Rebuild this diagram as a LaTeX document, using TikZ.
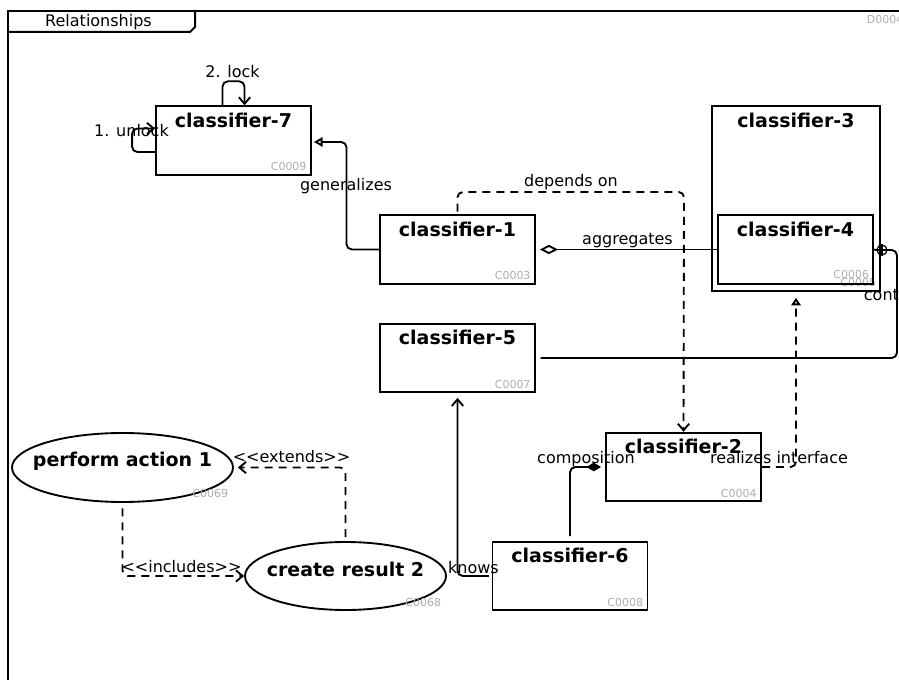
\documentclass[tikz,border=0pt]{standalone}
\usepackage{fontspec}
\setmainfont{DejaVu Sans}
\usetikzlibrary{arrows.meta,calc,shapes.geometric}
\newcommand{\lguil}{<\kern0pt<}
\newcommand{\rguil}{>\kern0pt>}
\begin{document}
\begin{tikzpicture}[x=0.75pt,y=-0.75pt,
  line width=1.4pt,
  cls/.style={draw, rectangle, minimum width=116.25pt, minimum height=51.4pt, inner sep=0pt},
  ttl/.style={font=\fontsize{14.25}{16}\selectfont\bfseries, anchor=base, inner sep=0pt},
  cid/.style={font=\fontsize{8.25}{10}\selectfont, text=black!32, anchor=base east, inner sep=0pt},
  lbl/.style={font=\fontsize{12}{14}\selectfont, anchor=base, inner sep=0pt},
  uc/.style={draw, ellipse, inner sep=0pt},
  rc/.style={rounded corners=4pt},
  dsh/.style={dash pattern=on 6pt off 4.5pt},
  vtip/.style={-{Straight Barb[length=5pt,width=8.5pt]}},
  ttip/.style={-{Triangle[open,length=6.5pt,width=7pt]}},
]
\useasboundingbox (0,0) rectangle (899,680);

% frame
\draw[line width=1.5pt] (8,700) -- (8,11) -- (910,11);
\draw[line width=1.5pt] (8,32) -- (190,32) -- (195,27) -- (195,11);
\node[lbl] (ftitle) at (98.5,27) {Relationships};
\node[cid, anchor=base west] (did) at (866,24) {D0004};

% classifiers
\node[cls] (c7) at (233.5,140.5) {};
\node[ttl] (t7) at ($(c7.north)+(0,22)$) {classifier-7};
\node[cid] (i7) at ($(c7.south east)+(-4.5,-5)$) {C0009};

\node[cls] (c1) at (457.5,249.5) {};
\node[ttl] (t1) at ($(c1.north)+(0,22)$) {classifier-1};
\node[cid] (i1) at ($(c1.south east)+(-4.5,-5)$) {C0003};

\node[cls, minimum width=126pt, minimum height=138.75pt] (c3) at (796,198.5) {};
\node[ttl] (t3) at ($(c3.north)+(0,22)$) {classifier-3};
\node[cid] (i3) at ($(c3.south east)+(-4,-5)$) {C0005};

\node[cls] (c4) at (795.5,249.5) {};
\node[ttl] (t4) at ($(c4.north)+(0,22)$) {classifier-4};
\node[cid] (i4) at ($(c4.south east)+(-4,-6)$) {C0006};

\node[cls] (c5) at (457.5,358) {};
\node[ttl] (t5) at ($(c5.north)+(0,22)$) {classifier-5};
\node[cid] (i5) at ($(c5.south east)+(-4.5,-5)$) {C0007};

\node[cls] (c2) at (683.5,467) {};
\node[ttl] (t2) at ($(c2.north)+(0,22)$) {classifier-2};
\node[cid] (i2) at ($(c2.south east)+(-4.5,-5)$) {C0004};

\node[cls] (c6) at (570,576) {};
\node[ttl] (t6) at ($(c6.north)+(0,22)$) {classifier-6};
\node[cid] (i6) at ($(c6.south east)+(-4.5,-5)$) {C0008};

% use cases
\node[uc, minimum width=165.75pt, minimum height=51.75pt] (u1) at (122.5,467.5) {};
\node[ttl] (tu1) at (122.5,466) {perform action 1};
\node[cid] (iu1) at (229,497) {C0069};

\node[uc, minimum width=150.75pt, minimum height=51pt] (u2) at (345.5,576) {};
\node[ttl] (tu2) at (345.5,576) {create result 2};
\node[cid] (iu2) at (442,606) {C0068};

% self loops on classifier-7
\draw[rc, vtip] ($(c7.west)+(0,11.5)$) -- ($(c7.west)+(-23,11.5)$) -- ($(c7.west)+(-23,-12)$) -- ($(c7.west)+(0,-12)$);
\node[lbl] (lunlock) at (131.5,137) {1. unlock};
\draw[rc, vtip] ($(c7.north)+(-11,0)$) -- ($(c7.north)+(-11,-24)$) -- ($(c7.north)+(11,-24)$) -- ($(c7.north)+(11,0)$);
\node[lbl] (llock) at (232.5,78) {2. lock};

% generalizes
\coordinate (g1) at (346.5,142);
\draw[rc, ttip, shorten >=1.5pt] (c1.west) -| (g1) -- (g1 -| c7.east);
\node[lbl] (lgen) at (346,191) {generalizes};

% depends on
\coordinate (d1) at (684,192);
\draw[rc, dsh, vtip, shorten <=2pt] (c1.north) |- (d1) -- (c2.north);
\node[lbl] (ldep) at (571,187) {depends on};

% aggregates
\draw[{Diamond[open,length=13.5pt,width=7pt]}-, shorten <=3pt] (c1.east) -- (c4.west);
\node[lbl] (lagg) at (627.5,245) {aggregates};

% contains
\node[draw, circle, minimum size=7.5pt, inner sep=0pt, line width=0.9pt] (cp) at (882,250) {};
\draw[line width=0.9pt] (cp.west) -- (cp.east) (cp.north) -- (cp.south);
\draw (c4.east) -- (cp.west);
\coordinate (k1) at (897,300);
\draw[rc, shorten >=3.5pt] (cp.east) -| (k1) |- (c5.east);
\node[lbl, anchor=base west] (lcont) at (863,301) {cont};

% realizes interface
\draw[rc, dsh, -{Triangle[open,length=5.5pt,width=7pt]}, shorten >=4.5pt] (c2.east) -| (c3.south);
\node[lbl] (lreal) at (779,464) {realizes interface};

% composition
\draw[rc, -{Diamond[length=11pt,width=6.5pt]}, shorten >=3pt, shorten <=3.5pt] (c6.north) |- (c2.west);
\node[lbl] (lcomp) at (586,464) {composition};

% knows
\draw[rc, vtip, shorten >=3.5pt, shorten <=2pt] (c6.west) -| (c5.south);
\node[lbl] (lknows) at (473.5,573) {knows};

% extends
\draw[rc, dsh, vtip, shorten >=3pt, shorten <=3pt] (u2.north) |- (u1.east);
\node[lbl] (lext) at (291.5,463) {\lguil extends\rguil};

% includes
\draw[rc, dsh, vtip, shorten <=4pt] (u1.south) |- (u2.west);
\node[lbl] (linc) at (181.5,572) {\lguil includes\rguil};
\end{tikzpicture}
\end{document}
